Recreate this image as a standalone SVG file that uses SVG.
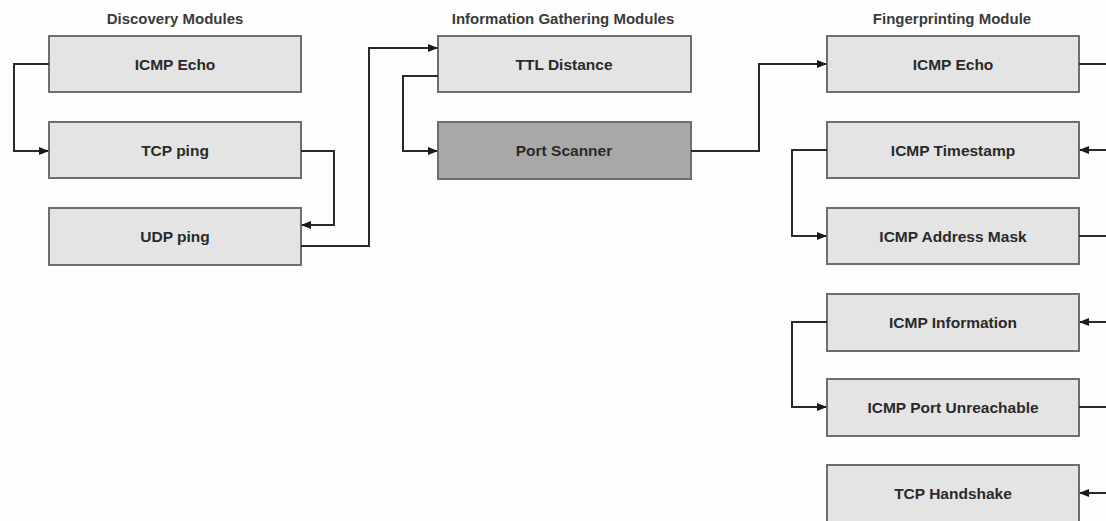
<svg xmlns="http://www.w3.org/2000/svg" width="1106" height="521" viewBox="0 0 1106 521">
<defs>
<marker id="arr" markerWidth="10" markerHeight="8" refX="9" refY="4" orient="auto" markerUnits="userSpaceOnUse">
<path d="M0,0 L10,4 L0,8 Z" fill="#1a1a1a"/>
</marker>
<style>
.box{fill:#e4e4e4;stroke:#6e6e6e;stroke-width:2}
.dark{fill:#a8a8a8}
.lbl{font-family:"Liberation Sans",Arial,sans-serif;font-weight:bold;font-size:15.5px;fill:#2a2a2a;text-anchor:middle}
.hdr{font-family:"Liberation Sans",Arial,sans-serif;font-weight:bold;font-size:15px;fill:#3a3a3a;text-anchor:middle}
.c{fill:none;stroke:#2a2a2a;stroke-width:2}
</style>
</defs>
<rect width="1106" height="521" fill="#fdfdfd"/>
<text class="hdr" x="175" y="24">Discovery Modules</text>
<text class="hdr" x="563" y="24">Information Gathering Modules</text>
<text class="hdr" x="952" y="24">Fingerprinting Module</text>

<g id="d-icmp-echo"><rect class="box" x="49" y="36" width="252" height="56"/><text class="lbl" x="175" y="70">ICMP Echo</text></g>
<g id="d-tcp-ping"><rect class="box" x="49" y="122" width="252" height="56"/><text class="lbl" x="175" y="156">TCP ping</text></g>
<g id="d-udp-ping"><rect class="box" x="49" y="208" width="252" height="57"/><text class="lbl" x="175" y="242">UDP ping</text></g>

<g id="i-ttl"><rect class="box" x="438" y="36" width="253" height="56"/><text class="lbl" x="564" y="70">TTL Distance</text></g>
<g id="i-port-scanner"><rect class="box dark" x="438" y="122" width="253" height="57"/><text class="lbl" x="564" y="156">Port Scanner</text></g>

<g id="f-icmp-echo"><rect class="box" x="827" y="36" width="252" height="56"/><text class="lbl" x="953" y="70">ICMP Echo</text></g>
<g id="f-icmp-timestamp"><rect class="box" x="827" y="122" width="252" height="56"/><text class="lbl" x="953" y="156">ICMP Timestamp</text></g>
<g id="f-icmp-address-mask"><rect class="box" x="827" y="208" width="252" height="56"/><text class="lbl" x="953" y="242">ICMP Address Mask</text></g>
<g id="f-icmp-information"><rect class="box" x="827" y="294" width="252" height="57"/><text class="lbl" x="953" y="328">ICMP Information</text></g>
<g id="f-icmp-port-unreachable"><rect class="box" x="827" y="379" width="252" height="57"/><text class="lbl" x="953" y="413">ICMP Port Unreachable</text></g>
<g id="f-tcp-handshake"><rect class="box" x="827" y="465" width="252" height="60"/><text class="lbl" x="953" y="499">TCP Handshake</text></g>

<g id="connectors">
<path class="c" d="M49,64 H14 V151 H48" marker-end="url(#arr)"/>
<path class="c" d="M301,151 H334 V225 H302" marker-end="url(#arr)"/>
<path class="c" d="M301,246 H369 V48 H437" marker-end="url(#arr)"/>
<path class="c" d="M438,76 H403 V151 H437" marker-end="url(#arr)"/>
<path class="c" d="M691,151 H759 V64 H826" marker-end="url(#arr)"/>
<path class="c" d="M1079,64 H1106"/>
<path class="c" d="M1106,150 H1080" marker-end="url(#arr)"/>
<path class="c" d="M827,150 H792 V236 H826" marker-end="url(#arr)"/>
<path class="c" d="M1079,236 H1106"/>
<path class="c" d="M1106,322 H1080" marker-end="url(#arr)"/>
<path class="c" d="M827,322 H792 V407 H826" marker-end="url(#arr)"/>
<path class="c" d="M1079,407 H1106"/>
<path class="c" d="M1106,493 H1080" marker-end="url(#arr)"/>
</g>
</svg>
